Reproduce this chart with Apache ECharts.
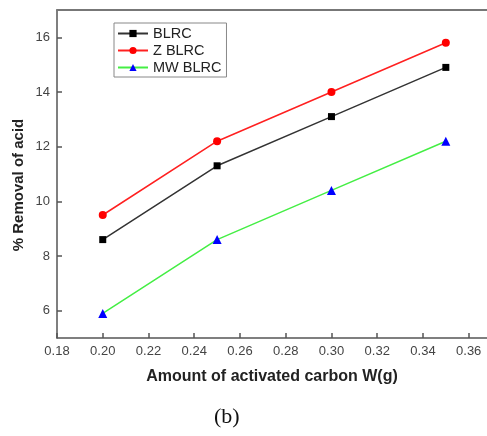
<!DOCTYPE html>
<html><head><meta charset="utf-8">
<script src="https://cdn.jsdelivr.net/npm/echarts@6/dist/echarts.min.js"></script>
<style>html,body{margin:0;padding:0;background:#fff}#c{width:487px;height:436px}</style>
</head><body><div id="c"></div>
<script>
const xValues = [0.20, 0.25, 0.30, 0.35];
const blrc = [8.6, 11.3, 13.1, 14.9];
const zBlrc = [9.5, 12.2, 14.0, 15.8];
const mwBlrc = [5.9, 8.6, 10.4, 12.2];
const xTicks = [0.18, 0.20, 0.22, 0.24, 0.26, 0.28, 0.30, 0.32, 0.34, 0.36];
const yTicks = [6, 8, 10, 12, 14, 16];
const pair = (ys) => xValues.map((x, i) => [x, ys[i]]);

const chart = echarts.init(document.getElementById('c'));
const axisCol = '#555';
const font = 'Liberation Sans, Arial, sans-serif';
chart.setOption({
  animation: false,
  grid: {left: 57, right: 0, top: 10, bottom: 98, containLabel: false},
  legend: {
    orient: 'vertical', left: 114, top: 23,
    padding: [3, 5, 2, 3], itemGap: 2, itemWidth: 30, itemHeight: 9,
    borderColor: '#888', borderWidth: 1, borderRadius: 0,
    textStyle: {fontFamily: font, fontSize: 14.5, color: '#222'},
    data: ['BLRC', 'Z BLRC', 'MW BLRC']
  },
  xAxis: [{
    type: 'value', min: 0.18, max: 0.368,
    name: 'Amount of activated carbon W(g)', nameLocation: 'middle', nameGap: 31,
    nameTextStyle: {fontFamily: font, fontSize: 16, fontWeight: 'bold', color: '#222'},
    axisLine: {lineStyle: {color: axisCol, width: 1.5}},
    axisTick: {inside: true, length: 5, lineStyle: {color: axisCol, width: 1.5}, customValues: xTicks},
    axisLabel: {fontFamily: font, fontSize: 13, color: '#444', margin: 7, customValues: xTicks,
      formatter: v => v.toFixed(2)},
    splitLine: {show: false}
  }, {
    type: 'value', position: 'top', min: 0.18, max: 0.368,
    axisLine: {show: true, lineStyle: {color: '#777', width: 2}},
    axisTick: {show: false}, axisLabel: {show: false}, splitLine: {show: false}
  }],
  yAxis: {
    type: 'value', min: 5, max: 17,
    axisLine: {show: true, lineStyle: {color: axisCol, width: 1.5}},
    axisTick: {show: true, inside: true, length: 5, lineStyle: {color: axisCol, width: 1.5}, customValues: yTicks},
    axisLabel: {fontFamily: font, fontSize: 13, color: '#444', margin: 7, customValues: yTicks},
    splitLine: {show: false}
  },
  series: [
    {name: 'BLRC', type: 'line', data: pair(blrc), symbol: 'rect', symbolSize: 7,
      lineStyle: {color: '#333', width: 1.5}, itemStyle: {color: '#000'}},
    {name: 'Z BLRC', type: 'line', data: pair(zBlrc), symbol: 'circle', symbolSize: 8,
      lineStyle: {color: '#ff2020', width: 1.5}, itemStyle: {color: '#ff0000'}},
    {name: 'MW BLRC', type: 'line', data: pair(mwBlrc), symbol: 'triangle', symbolSize: 9,
      lineStyle: {color: '#44ee44', width: 1.5}, itemStyle: {color: '#0000ff'}}
  ],
  graphic: [{
    type: 'text', x: 19, y: 185, rotation: Math.PI / 2,
    style: {text: '% Removal of acid', font: 'bold 15px "Liberation Sans", Arial, sans-serif', fill: '#222',
      align: 'center', verticalAlign: 'middle'}
  }, {
    type: 'text', left: 214, top: 406,
    style: {text: '(b)', font: '22px "Liberation Serif", "Times New Roman", serif', fill: '#111'}
  }]
});
</script></body></html>
